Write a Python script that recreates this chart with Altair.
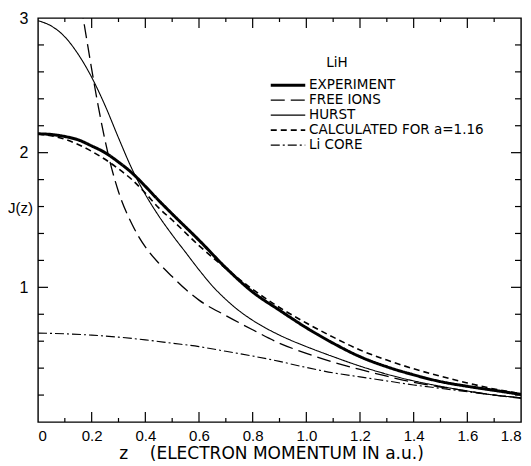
import altair as alt
import pandas as pd

# ---- data ----
series_names = ["EXPERIMENT", "FREE IONS", "HURST", "CALCULATED FOR a=1.16", "Li CORE"]

z_exp = [0, 0.05, 0.1, 0.15, 0.2, 0.25, 0.3, 0.35, 0.4, 0.45, 0.5, 0.6, 0.7, 0.8, 0.9, 1.0, 1.1, 1.2, 1.3, 1.4, 1.5, 1.6, 1.7, 1.8]
j_exp = [2.14, 2.135, 2.12, 2.095, 2.05, 2.0, 1.93, 1.85, 1.75, 1.645, 1.545, 1.35, 1.145, 0.965, 0.83, 0.70, 0.585, 0.485, 0.41, 0.35, 0.30, 0.265, 0.235, 0.205]

z_free = [0.16, 0.18, 0.2, 0.225, 0.25, 0.275, 0.3, 0.35, 0.4, 0.45, 0.5, 0.55, 0.6, 0.7, 0.8, 0.9, 1.0, 1.1, 1.2, 1.3, 1.4, 1.5, 1.6, 1.7, 1.8]
j_free = [3.10, 2.86, 2.62, 2.34, 2.09, 1.88, 1.71, 1.47, 1.30, 1.18, 1.08, 0.985, 0.905, 0.79, 0.685, 0.585, 0.51, 0.445, 0.39, 0.34, 0.295, 0.26, 0.23, 0.20, 0.175]

z_hurst = [0, 0.05, 0.1, 0.15, 0.2, 0.25, 0.3, 0.35, 0.4, 0.45, 0.5, 0.55, 0.6, 0.65, 0.7, 0.75, 0.8, 0.9, 1.0, 1.1, 1.2, 1.3, 1.4, 1.5, 1.6, 1.7, 1.8]
j_hurst = [2.98, 2.94, 2.86, 2.73, 2.56, 2.35, 2.11, 1.88, 1.69, 1.53, 1.39, 1.26, 1.13, 1.01, 0.91, 0.825, 0.755, 0.645, 0.56, 0.485, 0.415, 0.355, 0.305, 0.265, 0.23, 0.20, 0.18]

z_calc = [0, 0.1, 0.2, 0.3, 0.35, 0.4, 0.45, 0.5, 0.6, 0.7, 0.8, 0.9, 1.0, 1.1, 1.2, 1.3, 1.4, 1.5, 1.6, 1.7, 1.8]
j_calc = [2.14, 2.10, 2.01, 1.88, 1.80, 1.70, 1.59, 1.50, 1.31, 1.14, 0.985, 0.85, 0.735, 0.63, 0.535, 0.46, 0.395, 0.34, 0.29, 0.245, 0.21]

z_core = [0, 0.1, 0.2, 0.3, 0.4, 0.5, 0.6, 0.7, 0.8, 0.9, 1.0, 1.1, 1.2, 1.3, 1.4, 1.5, 1.6, 1.7, 1.8]
j_core = [0.66, 0.655, 0.645, 0.63, 0.61, 0.585, 0.56, 0.525, 0.49, 0.45, 0.405, 0.365, 0.335, 0.305, 0.275, 0.25, 0.225, 0.20, 0.18]

x_labels = [0, 0.2, 0.4, 0.6, 0.8, 1.0, 1.2, 1.4, 1.6, 1.8]
x_major = [0.2, 0.4, 0.6, 0.8, 1.0, 1.2, 1.4, 1.6]
x_minor = [0.1, 0.3, 0.5, 0.7, 0.9, 1.1, 1.3, 1.5, 1.7]
y_labels = [1, 2, 3]
y_major = [1, 2]
y_minor = [0.2, 0.4, 0.6, 0.8, 1.2, 1.4, 1.6, 1.8, 2.2, 2.4, 2.6, 2.8]

rows = []
for name, zs, js in zip(series_names,
                        [z_exp, z_free, z_hurst, z_calc, z_core],
                        [j_exp, j_free, j_hurst, j_calc, j_core]):
    for a, b in zip(zs, js):
        rows.append({"series": name, "z": a, "J": b})
df = pd.DataFrame(rows)

W, H = 483, 404
FONT = "Liberation Sans"
LFONT = "DejaVu Sans"
dashes = [[1, 0], [14, 6], [1, 0], [6, 4], [9, 3, 2, 3]]
widths = [3.0, 1.3, 1.1, 1.6, 1.1]

xs = alt.Scale(domain=[0, 1.8], nice=False, zero=False)
ys = alt.Scale(domain=[0, 3], nice=False, zero=False)

x_axis = alt.Axis(
    values=x_labels, ticks=False, domain=False, grid=False,
    labelExpr="datum.value == 0 ? '0' : format(datum.value, '.1f')",
    labelFont=FONT, labelFontSize=15, labelPadding=6, labelColor="black",
    title="z\u00a0\u00a0\u00a0\u00a0(ELECTRON MOMENTUM IN a.u.)",
    titleFont=LFONT, titleFontSize=17, titleFontWeight="normal",
    titleColor="black", titleX=233, titlePadding=2)
y_axis = alt.Axis(
    values=y_labels, ticks=False, domain=False, grid=False,
    labelFont=FONT, labelFontSize=16, labelPadding=10, labelColor="black",
    title="J(z)", titleAngle=0, titleX=-18, titleY=189, titleAlign="center",
    titleBaseline="middle", titleFont=FONT, titleFontSize=15,
    titleFontWeight="normal", titleColor="black")

legend = alt.Legend(title=None, orient="none", legendX=231, legendY=60,
                    symbolType="stroke", symbolSize=1190, symbolStrokeColor="black",
                    labelFont=LFONT, labelFontSize=13.5, labelColor="black", labelLimit=0,
                    clipHeight=14.3, rowPadding=0, labelOffset=2)

lines = alt.Chart(df).mark_line(color="black", clip=True, interpolate="monotone").encode(
    x=alt.X("z:Q", scale=xs, axis=x_axis),
    y=alt.Y("J:Q", scale=ys, axis=y_axis),
    strokeDash=alt.StrokeDash("series:N", scale=alt.Scale(domain=series_names, range=dashes), legend=legend),
    strokeWidth=alt.StrokeWidth("series:N", scale=alt.Scale(type="ordinal", domain=series_names, range=widths), legend=legend),
)


def xticks(values, y0, y1):
    return alt.Chart(pd.DataFrame({"z": values})).mark_rule(color="black", strokeWidth=1.2).encode(
        x=alt.X("z:Q", scale=xs, axis=x_axis), y=alt.value(y0), y2=alt.value(y1))


def yticks(values, x0, x1):
    return alt.Chart(pd.DataFrame({"J": values})).mark_rule(color="black", strokeWidth=1.2).encode(
        y=alt.Y("J:Q", scale=ys, axis=y_axis), x=alt.value(x0), x2=alt.value(x1))


tick_layers = [
    xticks(x_major, H, H - 10), xticks(x_minor, H, H - 4),
    xticks(x_major, 0, 10), xticks(x_minor, 0, 4),
    yticks(y_major, 0, 10), yticks(y_minor, 0, 6),
    yticks(y_major, W - 10, W), yticks(y_minor, W - 6, W),
]

title_df = pd.DataFrame({"t": ["LiH"]})
lih = alt.Chart(title_df).mark_text(font=LFONT, fontSize=13.5, color="black",
                                    align="center", baseline="middle").encode(
    x=alt.value(299), y=alt.value(45), text="t:N")

chart = alt.layer(lines, *tick_layers, lih).properties(
    width=W, height=H,
    background="white",
    autosize=alt.AutoSizeParams(type="none"),
    padding={"left": 30, "top": 10, "right": 2, "bottom": 40},
).configure_view(stroke="black", strokeWidth=1.4)

chart.save("out.html", embed_options={"renderer": "svg", "actions": False})
